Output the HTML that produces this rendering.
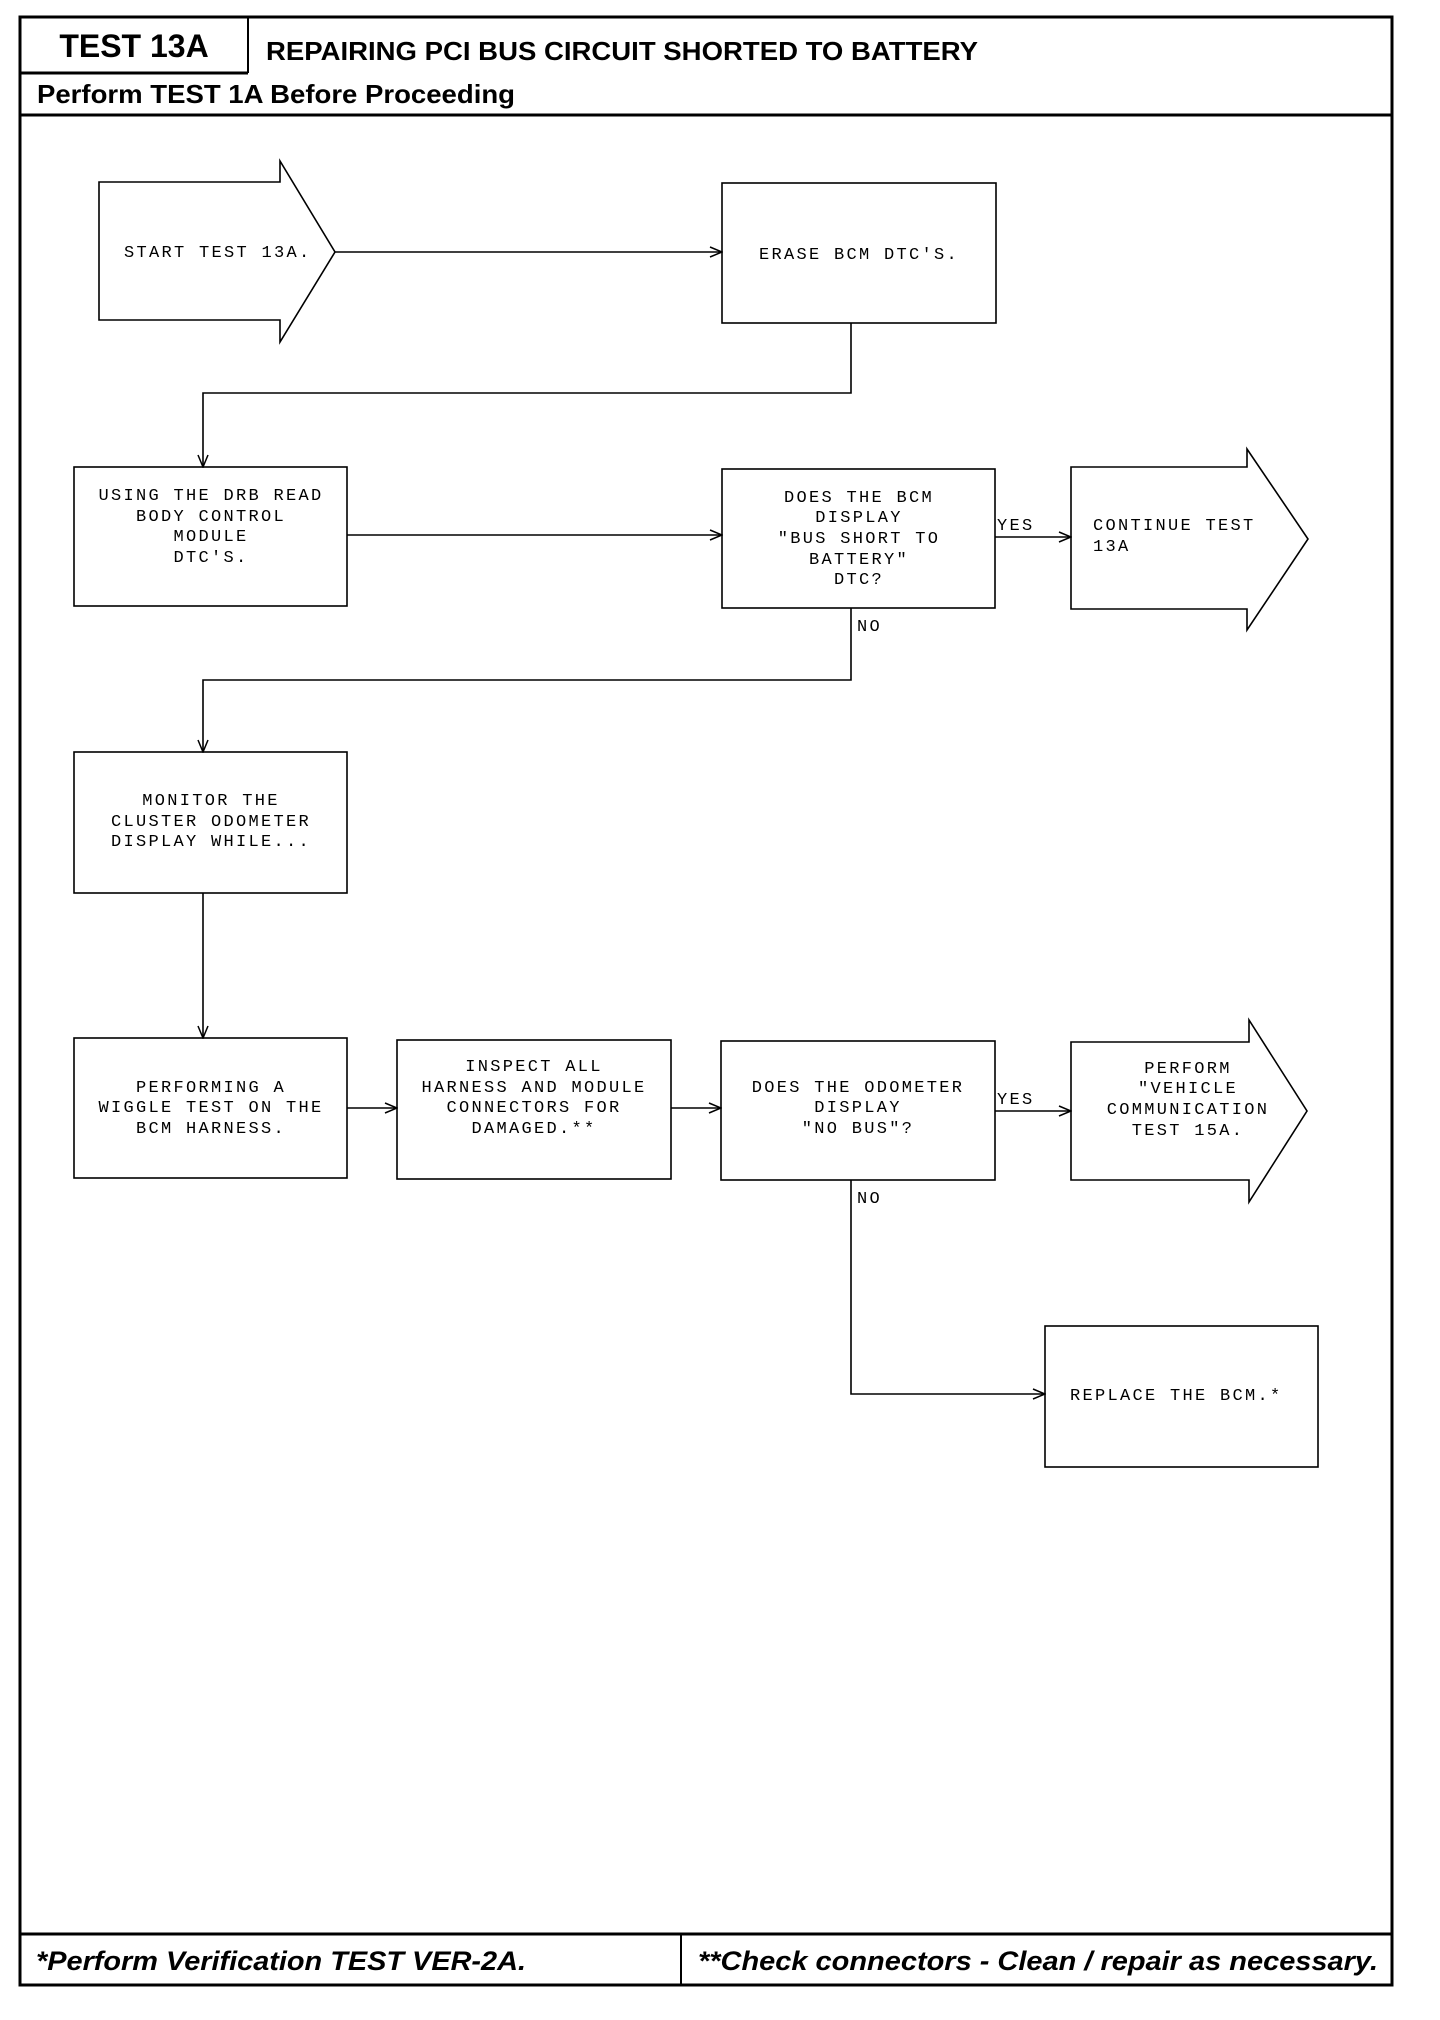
<!DOCTYPE html>
<html><head><meta charset="utf-8"><style>
html,body{margin:0;padding:0;background:#fff;}
svg{display:block}
.m{font-family:"Liberation Mono",monospace;font-size:17px;letter-spacing:2.3px;fill:#000}
.h{font-family:"Liberation Sans",sans-serif;font-weight:bold;fill:#000}
</style></head><body>
<svg width="1440" height="2020" viewBox="0 0 1440 2020" xmlns="http://www.w3.org/2000/svg">
<defs><marker id="a" markerWidth="14" markerHeight="12" refX="13" refY="6" orient="auto" markerUnits="userSpaceOnUse"><path d="M1,1 L13,6 L1,11" fill="none" stroke="#000" stroke-width="1.5"/></marker></defs>
<g fill="none" stroke="#000">
<rect x="20" y="17" width="1372" height="1968" stroke-width="3"/>
<line x1="20" y1="73" x2="248" y2="73" stroke-width="3"/>
<line x1="248" y1="17" x2="248" y2="73" stroke-width="2"/>
<line x1="20" y1="115" x2="1392" y2="115" stroke-width="3"/>
<line x1="20" y1="1934" x2="1392" y2="1934" stroke-width="3"/>
<line x1="681" y1="1934" x2="681" y2="1985" stroke-width="2"/>
<g stroke-width="1.6">
<path d="M99,182 H280 V161 L335,252 L280,342 V320 H99 Z"/>
<rect x="722" y="183" width="274" height="140"/>
<rect x="74" y="467" width="273" height="139"/>
<rect x="722" y="469" width="273" height="139"/>
<path d="M1071,467 H1247 V449 L1308,539 L1247,630 V609 H1071 Z"/>
<rect x="74" y="752" width="273" height="141"/>
<rect x="74" y="1038" width="273" height="140"/>
<rect x="397" y="1040" width="274" height="139"/>
<rect x="721" y="1041" width="274" height="139"/>
<path d="M1071,1042 H1249 V1020 L1307,1111 L1249,1202 V1180 H1071 Z"/>
<rect x="1045" y="1326" width="273" height="141"/>
<line x1="335" y1="252" x2="722" y2="252" marker-end="url(#a)"/>
<polyline points="851,323 851,393 203,393 203,467" marker-end="url(#a)"/>
<line x1="347" y1="535" x2="722" y2="535" marker-end="url(#a)"/>
<line x1="995" y1="537" x2="1071" y2="537" marker-end="url(#a)"/>
<polyline points="851,608 851,680 203,680 203,752" marker-end="url(#a)"/>
<line x1="203" y1="893" x2="203" y2="1038" marker-end="url(#a)"/>
<line x1="347" y1="1108" x2="397" y2="1108" marker-end="url(#a)"/>
<line x1="671" y1="1108" x2="721" y2="1108" marker-end="url(#a)"/>
<line x1="995" y1="1111" x2="1071" y2="1111" marker-end="url(#a)"/>
<polyline points="851,1180 851,1394 1045,1394" marker-end="url(#a)"/>
</g></g>
<text class="h" x="134" y="57" font-size="32" text-anchor="middle">TEST 13A</text>
<text class="h" x="266" y="60" font-size="26" textLength="712" lengthAdjust="spacingAndGlyphs">REPAIRING PCI BUS CIRCUIT SHORTED TO BATTERY</text>
<text class="h" x="37" y="103" font-size="26" textLength="478" lengthAdjust="spacingAndGlyphs">Perform TEST 1A Before Proceeding</text>
<text class="h" x="36" y="1970" font-size="27" font-style="italic" textLength="490" lengthAdjust="spacingAndGlyphs">*Perform Verification TEST VER-2A.</text>
<text class="h" x="698" y="1970" font-size="27" font-style="italic" textLength="680" lengthAdjust="spacingAndGlyphs">**Check connectors - Clean / repair as necessary.</text>
<g class="m">
<text x="124" y="257">START TEST 13A.</text>
<text x="859" y="259" text-anchor="middle">ERASE BCM DTC'S.</text>
<g text-anchor="middle">
<text x="211" y="500">USING THE DRB READ</text>
<text x="211" y="521">BODY CONTROL</text>
<text x="211" y="541">MODULE</text>
<text x="211" y="562">DTC'S.</text>
<text x="859" y="502">DOES THE BCM</text>
<text x="859" y="522">DISPLAY</text>
<text x="859" y="543">"BUS SHORT TO</text>
<text x="859" y="564">BATTERY"</text>
<text x="859" y="584">DTC?</text>
<text x="211" y="805">MONITOR THE</text>
<text x="211" y="826">CLUSTER ODOMETER</text>
<text x="211" y="846">DISPLAY WHILE...</text>
<text x="211" y="1092">PERFORMING A</text>
<text x="211" y="1112">WIGGLE TEST ON THE</text>
<text x="211" y="1133">BCM HARNESS.</text>
<text x="534" y="1071">INSPECT ALL</text>
<text x="534" y="1092">HARNESS AND MODULE</text>
<text x="534" y="1112">CONNECTORS FOR</text>
<text x="534" y="1133">DAMAGED.**</text>
<text x="858" y="1092">DOES THE ODOMETER</text>
<text x="858" y="1112">DISPLAY</text>
<text x="858" y="1133">"NO BUS"?</text>
<text x="1188" y="1073">PERFORM</text>
<text x="1188" y="1093">"VEHICLE</text>
<text x="1188" y="1114">COMMUNICATION</text>
<text x="1188" y="1135">TEST 15A.</text>
</g>
<text x="1093" y="530">CONTINUE TEST</text>
<text x="1093" y="551">13A</text>
<text x="997" y="530">YES</text>
<text x="857" y="631">NO</text>
<text x="997" y="1104">YES</text>
<text x="857" y="1203">NO</text>
<text x="1070" y="1400">REPLACE THE BCM.*</text>
</g>
</svg>
</body></html>
